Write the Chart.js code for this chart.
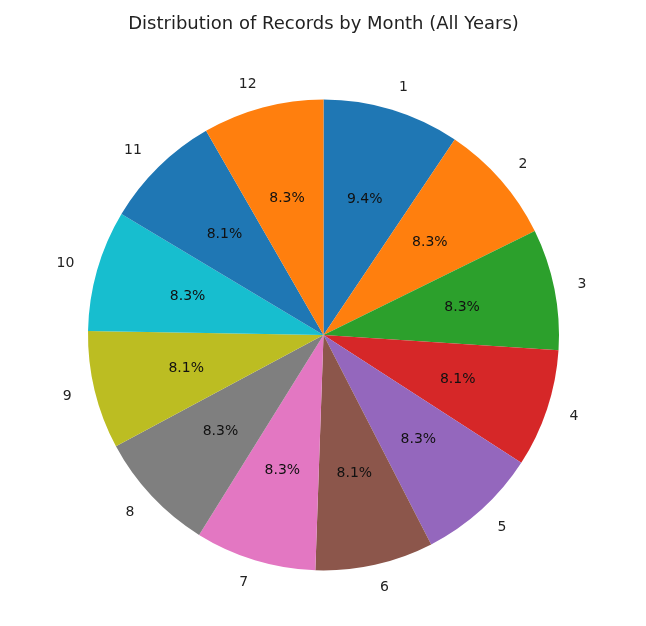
<!DOCTYPE html>
<html>
<head>
<meta charset="utf-8">
<script src="https://cdn.jsdelivr.net/npm/chart.js@4"></script>
<style>
  html, body { margin: 0; padding: 0; background: #fff; }
  #wrap { width: 646px; height: 626px; }
</style>
</head>
<body>
<div id="wrap"><canvas id="pieChart" width="646" height="626"></canvas></div>
<script>
// months, shares in percent
const months = ['1', '2', '3', '4', '5', '6', '7', '8', '9', '10', '11', '12'];
const shares = [9.4, 8.3, 8.3, 8.1, 8.3, 8.1, 8.3, 8.3, 8.1, 8.3, 8.1, 8.3];
const sliceColors = ['#1f77b4', '#ff7f0e', '#2ca02c', '#d62728', '#9467bd', '#8c564b',
                     '#e377c2', '#7f7f7f', '#bcbd22', '#17becf', '#1f77b4', '#ff7f0e'];

// draws month labels outside (1.1 r) and percentages inside (0.6 r), like matplotlib
const pieLabels = {
    id: 'pieLabels',
    afterDatasetsDraw(chart) {
        const ctx = chart.ctx;
        const arcs = chart.getDatasetMeta(0).data;
        const total = shares.reduce((a, b) => a + b, 0);
        ctx.save();
        ctx.font = '14px "DejaVu Sans"';
        ctx.textBaseline = 'middle';
        arcs.forEach((arc, i) => {
            const p = arc.getProps(['x', 'y', 'startAngle', 'endAngle', 'outerRadius'], true);
            const mid = (p.startAngle + p.endAngle) / 2;
            const cx = Math.cos(mid), cy = Math.sin(mid);
            // outer label
            ctx.fillStyle = '#222';
            const lx = p.x + cx * p.outerRadius * 1.1;
            const ly = p.y + cy * p.outerRadius * 1.1;
            ctx.textAlign = cx >= 0 ? 'left' : 'right';
            ctx.fillText(months[i], lx, ly);
            // percentage
            ctx.fillStyle = '#111';
            ctx.textAlign = 'center';
            const pct = (shares[i] / total * 100).toFixed(1) + '%';
            ctx.fillText(pct, p.x + cx * p.outerRadius * 0.6, p.y + cy * p.outerRadius * 0.6);
        });
        ctx.restore();
    }
};

const ctx = document.getElementById('pieChart').getContext('2d');
const pieChart = new Chart(ctx, {
    type: 'pie',
    data: {
        labels: months,
        datasets: [{
            data: shares,
            backgroundColor: sliceColors,
            borderWidth: 0,
            hoverOffset: 0
        }]
    },
    options: {
        responsive: false,
        animation: false,
        layout: {
            padding: { top: 0, bottom: 55, left: 88, right: 87 }
        },
        plugins: {
            legend: { display: false },
            tooltip: { enabled: false },
            title: {
                display: true,
                text: 'Distribution of Records by Month (All Years)',
                color: '#222',
                font: { family: 'DejaVu Sans', size: 18, weight: 'normal' },
                padding: { top: 14, bottom: 63.4 }
            }
        }
    },
    plugins: [pieLabels]
});
</script>
</body>
</html>
